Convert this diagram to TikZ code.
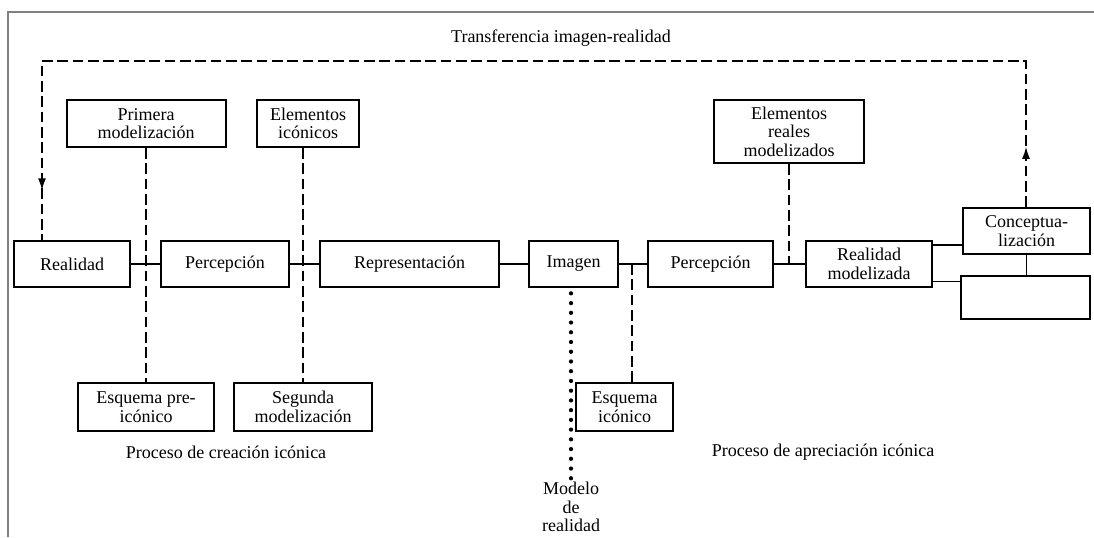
\documentclass[tikz,border=0pt]{standalone}
\usepackage{fontspec}
\setmainfont{Liberation Serif}
\usetikzlibrary{arrows.meta,decorations.markings}
\tikzset{
    box/.style 2 args={draw, line width=1.5pt, align=center, inner sep=0pt,
        minimum width=#1*0.75pt, minimum height=#2*0.75pt},
    link/.style={line width=1pt},
    dashlink/.style={line width=1.2pt, dash pattern=on 8pt off 3.5pt},
    dotlink/.style={line width=3.2pt, line cap=round, dash pattern=on 0pt off 7.3pt},
}
\begin{document}
\begin{tikzpicture}[x=0.75pt, y=-0.75pt, font=\fontsize{13.5pt}{13.8pt}\selectfont]
        \useasboundingbox (0,0) rectangle (1094,537);
        \draw [gray, line width=0.8pt] (1094,12) -- (8,12) -- (8,537);
        \node [box={159}{47}] (prim) at (146,123.5) {Primera\\modelización};
        \node [box={102}{47}] (elic) at (308,123.5) {Elementos\\icónicos};
        \node [box={150}{63}] (elreal) at (789,131.5) {Elementos\\reales\\modelizados};
        \node [box={116}{46}] (real) at (72,264) {Realidad};
        \node [box={128}{46}] (perc1) at (225,264) {Percepción};
        \node [box={179}{46}] (repr) at (409.5,264) {Representación};
        \node [box={89}{46}] (imag) at (573.5,264) {Imagen};
        \node [box={125}{46}] (perc2) at (710.5,264) {Percepción};
        \node [box={126}{46}] (realmod) at (869,264) {Realidad\\modelizada};
        \node [box={127}{46}] (concep) at (1026.5,231) {Conceptua-\\lización};
        \node [box={129}{43}] (vacio) at (1025.5,297.5) {};
        \node [box={136}{48}] (esqpre) at (146,407) {Esquema pre-\\icónico};
        \node [box={138}{48}] (segmod) at (303,407) {Segunda\\modelización};
        \node [box={97}{48}] (esqic) at (624.5,407) {Esquema\\icónico};
        \node (titulo) at (561,38) {Transferencia imagen-realidad};
        \node (creacion) at (226,452) {Proceso de creación icónica};
        \node (apreciacion) at (823,452) {Proceso de apreciación icónica};
        \node [align=center, inner sep=1pt] (modelo) at (571,507) {Modelo\\de\\realidad};
        \coordinate (tl) at (42,61);
        \coordinate (tr) at (1026,61);
        \coordinate (ic) at (632,264);
        \draw [link] (real) -- (perc1) -- (repr) -- (imag) -- (perc2) -- (realmod);
        \draw [link] ([yshift=-3.75pt]realmod.north east) -- ([yshift=-3.75pt]realmod.north east -| concep.west);
        \draw [link] ([yshift=5pt]realmod.south east) -- ([yshift=5pt]realmod.south east -| vacio.west);
        \draw [link] (concep.south) -- (concep.south |- vacio.north);
        \draw [dashlink] (prim.south) -- (esqpre.north);
        \draw [dashlink] (segmod.north |- elic.south) -- (segmod.north);
        \draw [dashlink] (elreal.south) -- (elreal.south |- perc2.east);
        \draw [dashlink] (ic) -- (ic |- esqic.north);
        \draw [dotlink, shorten <=4pt] (imag.south -| modelo.north) -- (modelo.north);
        \draw [dashlink, postaction={decorate}, decoration={markings,
            mark=at position 0.046 with {\arrow{Latex[length=9pt,width=6pt]}},
            mark=at position 0.962 with {\arrow{Latex[length=9pt,width=6pt]}}}]
            (concep.north -| tr) -- (tr) -- (tl) -- (real.north -| tl);
    \end{tikzpicture}
\end{document}
